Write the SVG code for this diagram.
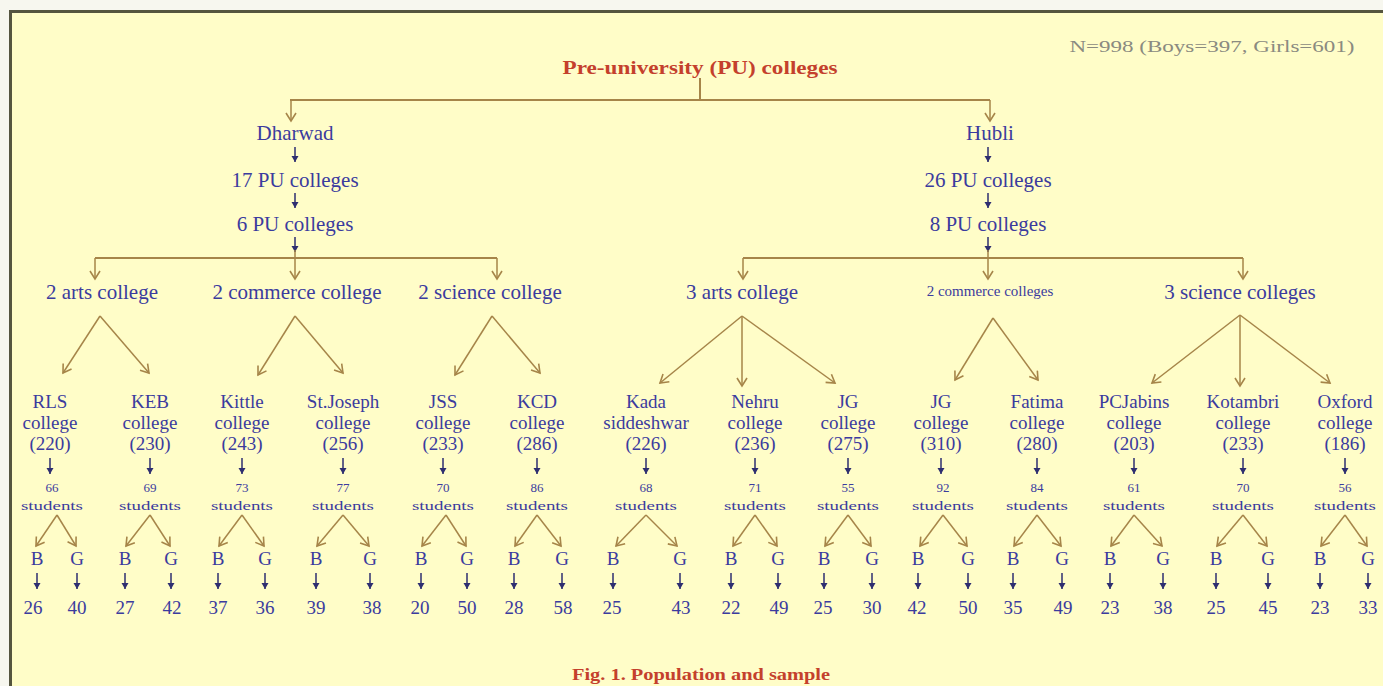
<svg xmlns="http://www.w3.org/2000/svg" width="1383" height="686" viewBox="0 0 1383 686">
<defs>
<style>
.t{font-family:"Liberation Serif","Times New Roman",serif;fill:#3b3b9e;text-anchor:middle}
.l{font-size:21px}
.c{font-size:19px}
.s{font-size:13px}
.bg{font-size:19px}
.nm{font-size:19px}
.red{font-family:"Liberation Serif","Times New Roman",serif;fill:#c4402c;font-weight:bold;text-anchor:middle}
.gray{font-family:"Liberation Serif","Times New Roman",serif;fill:#8a8a80;font-size:17px;text-anchor:middle}
.br{stroke:#a68549;stroke-width:2;fill:none}
.fa{stroke:#a68549;stroke-width:1.5;fill:none;marker-end:url(#ah)}
.dk{stroke:#2e2e70;stroke-width:1.5;fill:none;marker-end:url(#dh)}
</style>
<marker id="ah" viewBox="-10 -6 12 12" refX="0" refY="0" markerWidth="12" markerHeight="12" markerUnits="userSpaceOnUse" orient="auto"><path d="M-8,-5 L0,0 L-8,5" fill="none" stroke="#a68549" stroke-width="1.6"/></marker>
<marker id="dh" viewBox="-7 -4 8 8" refX="0" refY="0" markerWidth="8" markerHeight="8" markerUnits="userSpaceOnUse" orient="auto"><path d="M-6,-3.5 L0,0 L-6,3.5 z" fill="#2e2e70"/></marker>
</defs>
<rect x="0" y="0" width="1383" height="686" fill="#f7f7ef"/>
<rect x="10" y="12" width="1373" height="674" fill="#fffdc8"/>
<line x1="9" y1="11.5" x2="1383" y2="11.5" stroke="#55553f" stroke-width="3"/>
<line x1="10.5" y1="10" x2="10.5" y2="686" stroke="#55553f" stroke-width="3"/>

<g id="connectors">
<polyline class="br" points="700,78 700,100"/>
<line class="br" x1="290" y1="100" x2="990" y2="100"/>
<line class="fa" x1="291" y1="100" x2="291" y2="121"/>
<line class="fa" x1="990" y1="100" x2="990" y2="121"/>
<line class="dk" x1="295" y1="147" x2="295" y2="162"/>
<line class="dk" x1="295" y1="193" x2="295" y2="208"/>
<line class="dk" x1="295" y1="237" x2="295" y2="252"/>
<line class="dk" x1="988" y1="147" x2="988" y2="162"/>
<line class="dk" x1="988" y1="193" x2="988" y2="208"/>
<line class="dk" x1="988" y1="237" x2="988" y2="252"/>
<line class="br" x1="95" y1="258" x2="497" y2="258"/>
<line class="fa" x1="95" y1="258" x2="95" y2="279"/>
<line class="fa" x1="295" y1="250" x2="295" y2="279"/>
<line class="fa" x1="497" y1="258" x2="497" y2="279"/>
<line class="br" x1="743" y1="258" x2="1243" y2="258"/>
<line class="fa" x1="743" y1="258" x2="743" y2="279"/>
<line class="fa" x1="988" y1="250" x2="988" y2="279"/>
<line class="fa" x1="1243" y1="258" x2="1243" y2="279"/>
<line class="fa" x1="100" y1="316" x2="63" y2="373"/>
<line class="fa" x1="100" y1="316" x2="149" y2="373"/>
<line class="fa" x1="295" y1="316" x2="258" y2="375"/>
<line class="fa" x1="295" y1="316" x2="343" y2="373"/>
<line class="fa" x1="492" y1="316" x2="455" y2="375"/>
<line class="fa" x1="492" y1="316" x2="540" y2="373"/>
<line class="fa" x1="742" y1="316" x2="660" y2="383"/>
<line class="fa" x1="742" y1="316" x2="742" y2="386"/>
<line class="fa" x1="742" y1="316" x2="835" y2="383"/>
<line class="fa" x1="993" y1="318" x2="955" y2="380"/>
<line class="fa" x1="993" y1="318" x2="1038" y2="380"/>
<line class="fa" x1="1240" y1="315" x2="1152" y2="383"/>
<line class="fa" x1="1240" y1="315" x2="1240" y2="386"/>
<line class="fa" x1="1240" y1="315" x2="1330" y2="383"/>

<line class="dk" x1="50" y1="458" x2="50" y2="474"/>
<line class="dk" x1="150" y1="458" x2="150" y2="474"/>
<line class="dk" x1="242" y1="458" x2="242" y2="474"/>
<line class="dk" x1="343" y1="458" x2="343" y2="474"/>
<line class="dk" x1="443" y1="458" x2="443" y2="474"/>
<line class="dk" x1="537" y1="458" x2="537" y2="474"/>
<line class="dk" x1="646" y1="458" x2="646" y2="474"/>
<line class="dk" x1="755" y1="458" x2="755" y2="474"/>
<line class="dk" x1="848" y1="458" x2="848" y2="474"/>
<line class="dk" x1="941" y1="458" x2="941" y2="474"/>
<line class="dk" x1="1037" y1="458" x2="1037" y2="474"/>
<line class="dk" x1="1134" y1="458" x2="1134" y2="474"/>
<line class="dk" x1="1243" y1="458" x2="1243" y2="474"/>
<line class="dk" x1="1345" y1="458" x2="1345" y2="474"/>

<line class="fa" x1="57" y1="515" x2="36" y2="546"/><line class="fa" x1="57" y1="515" x2="76" y2="546"/>
<line class="fa" x1="150" y1="515" x2="126" y2="546"/><line class="fa" x1="150" y1="515" x2="170" y2="546"/>
<line class="fa" x1="242" y1="515" x2="219" y2="546"/><line class="fa" x1="242" y1="515" x2="264" y2="546"/>
<line class="fa" x1="343" y1="515" x2="317" y2="546"/><line class="fa" x1="343" y1="515" x2="369" y2="546"/>
<line class="fa" x1="446" y1="515" x2="422" y2="546"/><line class="fa" x1="446" y1="515" x2="466" y2="546"/>
<line class="fa" x1="537" y1="515" x2="515" y2="546"/><line class="fa" x1="537" y1="515" x2="561" y2="546"/>
<line class="fa" x1="646" y1="515" x2="616" y2="546"/><line class="fa" x1="646" y1="515" x2="677" y2="546"/>
<line class="fa" x1="755" y1="515" x2="733" y2="546"/><line class="fa" x1="755" y1="515" x2="777" y2="546"/>
<line class="fa" x1="848" y1="515" x2="825" y2="546"/><line class="fa" x1="848" y1="515" x2="871" y2="546"/>
<line class="fa" x1="943" y1="515" x2="920" y2="546"/><line class="fa" x1="943" y1="515" x2="967" y2="546"/>
<line class="fa" x1="1037" y1="515" x2="1014" y2="546"/><line class="fa" x1="1037" y1="515" x2="1061" y2="546"/>
<line class="fa" x1="1134" y1="515" x2="1111" y2="546"/><line class="fa" x1="1134" y1="515" x2="1162" y2="546"/>
<line class="fa" x1="1243" y1="515" x2="1217" y2="546"/><line class="fa" x1="1243" y1="515" x2="1267" y2="546"/>
<line class="fa" x1="1345" y1="515" x2="1321" y2="546"/><line class="fa" x1="1345" y1="515" x2="1367" y2="546"/>

<line class="dk" x1="37" y1="573" x2="37" y2="589"/><line class="dk" x1="77" y1="573" x2="77" y2="589"/>
<line class="dk" x1="125" y1="573" x2="125" y2="589"/><line class="dk" x1="171" y1="573" x2="171" y2="589"/>
<line class="dk" x1="218" y1="573" x2="218" y2="589"/><line class="dk" x1="265" y1="573" x2="265" y2="589"/>
<line class="dk" x1="316" y1="573" x2="316" y2="589"/><line class="dk" x1="370" y1="573" x2="370" y2="589"/>
<line class="dk" x1="421" y1="573" x2="421" y2="589"/><line class="dk" x1="467" y1="573" x2="467" y2="589"/>
<line class="dk" x1="514" y1="573" x2="514" y2="589"/><line class="dk" x1="562" y1="573" x2="562" y2="589"/>
<line class="dk" x1="613" y1="573" x2="613" y2="589"/><line class="dk" x1="680" y1="573" x2="680" y2="589"/>
<line class="dk" x1="731" y1="573" x2="731" y2="589"/><line class="dk" x1="778" y1="573" x2="778" y2="589"/>
<line class="dk" x1="824" y1="573" x2="824" y2="589"/><line class="dk" x1="872" y1="573" x2="872" y2="589"/>
<line class="dk" x1="918" y1="573" x2="918" y2="589"/><line class="dk" x1="968" y1="573" x2="968" y2="589"/>
<line class="dk" x1="1013" y1="573" x2="1013" y2="589"/><line class="dk" x1="1062" y1="573" x2="1062" y2="589"/>
<line class="dk" x1="1110" y1="573" x2="1110" y2="589"/><line class="dk" x1="1163" y1="573" x2="1163" y2="589"/>
<line class="dk" x1="1216" y1="573" x2="1216" y2="589"/><line class="dk" x1="1268" y1="573" x2="1268" y2="589"/>
<line class="dk" x1="1320" y1="573" x2="1320" y2="589"/><line class="dk" x1="1368" y1="573" x2="1368" y2="589"/>
</g>

<g id="n-total"><text class="gray" x="1212" y="52" textLength="285" lengthAdjust="spacingAndGlyphs">N=998 (Boys=397, Girls=601)</text></g>
<g id="n-title"><text class="red" x="700" y="74" font-size="18" textLength="275" lengthAdjust="spacingAndGlyphs">Pre-university (PU) colleges</text></g>

<g id="n-dharwad"><text class="t l" x="295" y="140">Dharwad</text></g>
<g id="n-d17"><text class="t l" x="295" y="187">17 PU colleges</text></g>
<g id="n-d6"><text class="t l" x="295" y="231">6 PU colleges</text></g>
<g id="n-hubli"><text class="t l" x="990" y="140">Hubli</text></g>
<g id="n-h26"><text class="t l" x="988" y="187">26 PU colleges</text></g>
<g id="n-h8"><text class="t l" x="988" y="231">8 PU colleges</text></g>

<g id="n-d-arts"><text class="t l" x="102" y="299">2 arts college</text></g>
<g id="n-d-com"><text class="t l" x="297" y="299">2 commerce college</text></g>
<g id="n-d-sci"><text class="t l" x="490" y="299">2 science college</text></g>
<g id="n-h-arts"><text class="t l" x="742" y="299">3 arts college</text></g>
<g id="n-h-com"><text class="t" x="990" y="296" font-size="15">2 commerce colleges</text></g>
<g id="n-h-sci"><text class="t l" x="1240" y="299">3 science colleges</text></g>

<g id="n-rls"><text class="t c" x="50" y="408">RLS</text><text class="t c" x="50" y="429">college</text><text class="t c" x="50" y="450">(220)</text><text class="t s" x="52" y="492">66</text><text class="t s" x="52" y="510" textLength="62" lengthAdjust="spacingAndGlyphs">students</text></g>
<g id="n-keb"><text class="t c" x="150" y="408">KEB</text><text class="t c" x="150" y="429">college</text><text class="t c" x="150" y="450">(230)</text><text class="t s" x="150" y="492">69</text><text class="t s" x="150" y="510" textLength="62" lengthAdjust="spacingAndGlyphs">students</text></g>
<g id="n-kittle"><text class="t c" x="242" y="408">Kittle</text><text class="t c" x="242" y="429">college</text><text class="t c" x="242" y="450">(243)</text><text class="t s" x="242" y="492">73</text><text class="t s" x="242" y="510" textLength="62" lengthAdjust="spacingAndGlyphs">students</text></g>
<g id="n-stjoseph"><text class="t c" x="343" y="408">St.Joseph</text><text class="t c" x="343" y="429">college</text><text class="t c" x="343" y="450">(256)</text><text class="t s" x="343" y="492">77</text><text class="t s" x="343" y="510" textLength="62" lengthAdjust="spacingAndGlyphs">students</text></g>
<g id="n-jss"><text class="t c" x="443" y="408">JSS</text><text class="t c" x="443" y="429">college</text><text class="t c" x="443" y="450">(233)</text><text class="t s" x="443" y="492">70</text><text class="t s" x="443" y="510" textLength="62" lengthAdjust="spacingAndGlyphs">students</text></g>
<g id="n-kcd"><text class="t c" x="537" y="408">KCD</text><text class="t c" x="537" y="429">college</text><text class="t c" x="537" y="450">(286)</text><text class="t s" x="537" y="492">86</text><text class="t s" x="537" y="510" textLength="62" lengthAdjust="spacingAndGlyphs">students</text></g>
<g id="n-kada"><text class="t c" x="646" y="408">Kada</text><text class="t c" x="646" y="429">siddeshwar</text><text class="t c" x="646" y="450">(226)</text><text class="t s" x="646" y="492">68</text><text class="t s" x="646" y="510" textLength="62" lengthAdjust="spacingAndGlyphs">students</text></g>
<g id="n-nehru"><text class="t c" x="755" y="408">Nehru</text><text class="t c" x="755" y="429">college</text><text class="t c" x="755" y="450">(236)</text><text class="t s" x="755" y="492">71</text><text class="t s" x="755" y="510" textLength="62" lengthAdjust="spacingAndGlyphs">students</text></g>
<g id="n-jg275"><text class="t c" x="848" y="408">JG</text><text class="t c" x="848" y="429">college</text><text class="t c" x="848" y="450">(275)</text><text class="t s" x="848" y="492">55</text><text class="t s" x="848" y="510" textLength="62" lengthAdjust="spacingAndGlyphs">students</text></g>
<g id="n-jg310"><text class="t c" x="941" y="408">JG</text><text class="t c" x="941" y="429">college</text><text class="t c" x="941" y="450">(310)</text><text class="t s" x="943" y="492">92</text><text class="t s" x="943" y="510" textLength="62" lengthAdjust="spacingAndGlyphs">students</text></g>
<g id="n-fatima"><text class="t c" x="1037" y="408">Fatima</text><text class="t c" x="1037" y="429">college</text><text class="t c" x="1037" y="450">(280)</text><text class="t s" x="1037" y="492">84</text><text class="t s" x="1037" y="510" textLength="62" lengthAdjust="spacingAndGlyphs">students</text></g>
<g id="n-pcjabins"><text class="t c" x="1134" y="408">PCJabins</text><text class="t c" x="1134" y="429">college</text><text class="t c" x="1134" y="450">(203)</text><text class="t s" x="1134" y="492">61</text><text class="t s" x="1134" y="510" textLength="62" lengthAdjust="spacingAndGlyphs">students</text></g>
<g id="n-kotambri"><text class="t c" x="1243" y="408">Kotambri</text><text class="t c" x="1243" y="429">college</text><text class="t c" x="1243" y="450">(233)</text><text class="t s" x="1243" y="492">70</text><text class="t s" x="1243" y="510" textLength="62" lengthAdjust="spacingAndGlyphs">students</text></g>
<g id="n-oxford"><text class="t c" x="1345" y="408">Oxford</text><text class="t c" x="1345" y="429">college</text><text class="t c" x="1345" y="450">(186)</text><text class="t s" x="1345" y="492">56</text><text class="t s" x="1345" y="510" textLength="62" lengthAdjust="spacingAndGlyphs">students</text></g>

<g id="n-bg">
<text class="t bg" x="37" y="565">B</text><text class="t bg" x="77" y="565">G</text>
<text class="t bg" x="125" y="565">B</text><text class="t bg" x="171" y="565">G</text>
<text class="t bg" x="218" y="565">B</text><text class="t bg" x="265" y="565">G</text>
<text class="t bg" x="316" y="565">B</text><text class="t bg" x="370" y="565">G</text>
<text class="t bg" x="421" y="565">B</text><text class="t bg" x="467" y="565">G</text>
<text class="t bg" x="514" y="565">B</text><text class="t bg" x="562" y="565">G</text>
<text class="t bg" x="613" y="565">B</text><text class="t bg" x="680" y="565">G</text>
<text class="t bg" x="731" y="565">B</text><text class="t bg" x="778" y="565">G</text>
<text class="t bg" x="824" y="565">B</text><text class="t bg" x="872" y="565">G</text>
<text class="t bg" x="918" y="565">B</text><text class="t bg" x="968" y="565">G</text>
<text class="t bg" x="1013" y="565">B</text><text class="t bg" x="1062" y="565">G</text>
<text class="t bg" x="1110" y="565">B</text><text class="t bg" x="1163" y="565">G</text>
<text class="t bg" x="1216" y="565">B</text><text class="t bg" x="1268" y="565">G</text>
<text class="t bg" x="1320" y="565">B</text><text class="t bg" x="1368" y="565">G</text>
</g>
<g id="n-counts">
<text class="t nm" x="33" y="614">26</text><text class="t nm" x="77" y="614">40</text>
<text class="t nm" x="125" y="614">27</text><text class="t nm" x="172" y="614">42</text>
<text class="t nm" x="218" y="614">37</text><text class="t nm" x="265" y="614">36</text>
<text class="t nm" x="316" y="614">39</text><text class="t nm" x="372" y="614">38</text>
<text class="t nm" x="420" y="614">20</text><text class="t nm" x="467" y="614">50</text>
<text class="t nm" x="514" y="614">28</text><text class="t nm" x="563" y="614">58</text>
<text class="t nm" x="612" y="614">25</text><text class="t nm" x="681" y="614">43</text>
<text class="t nm" x="731" y="614">22</text><text class="t nm" x="779" y="614">49</text>
<text class="t nm" x="823" y="614">25</text><text class="t nm" x="872" y="614">30</text>
<text class="t nm" x="917" y="614">42</text><text class="t nm" x="968" y="614">50</text>
<text class="t nm" x="1013" y="614">35</text><text class="t nm" x="1063" y="614">49</text>
<text class="t nm" x="1110" y="614">23</text><text class="t nm" x="1163" y="614">38</text>
<text class="t nm" x="1216" y="614">25</text><text class="t nm" x="1268" y="614">45</text>
<text class="t nm" x="1320" y="614">23</text><text class="t nm" x="1368" y="614">33</text>
</g>

<g id="n-caption"><text class="red" x="701" y="680" font-size="17" textLength="258" lengthAdjust="spacingAndGlyphs">Fig. 1. Population and sample</text></g>
</svg>
